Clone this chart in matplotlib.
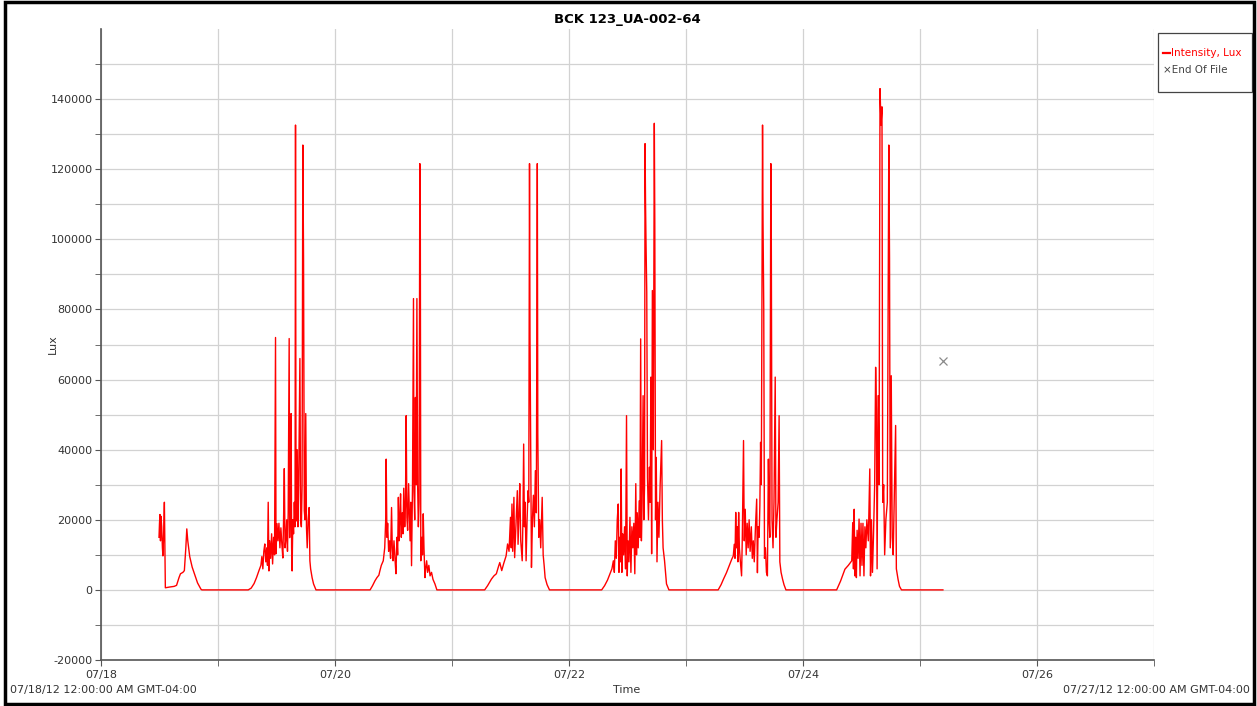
import datetime as dt

import matplotlib
matplotlib.use("Agg")
import matplotlib.pyplot as plt
import matplotlib.dates as mdates
from matplotlib.patches import Rectangle
from matplotlib.lines import Line2D

# logger readings, hours since 07/18/12 00:00 and intensity in lux
day1_h = [11.9, 12.0, 12.1, 12.2, 12.3, 12.45, 12.6, 12.7, 12.85, 13.0, 13.1, 13.2, 14.0, 15.0, 15.5,
          16.0, 16.3, 16.8, 17.1, 17.4, 17.6, 17.8, 18.2, 18.7, 19.3, 19.8, 20.5, 20.7]
day1_lux = [15000, 19000, 21500, 14000, 21000, 18000, 12000, 9700, 16000, 25000, 12000, 600, 800, 1000, 1300,
            3500, 4600, 5000, 5500, 12000, 17400, 14000, 9500, 6500, 4000, 2000, 200, 0]

day2_h = [30.2, 30.8, 31.4, 31.9, 32.4, 32.8, 33.0, 33.2, 33.4, 33.6, 33.8, 34.0, 34.15, 34.3, 34.45,
          34.6, 34.8, 35.0, 35.2, 35.4, 35.6, 35.8, 35.9, 36.1, 36.3, 36.5, 36.7, 36.9, 37.1, 37.3,
          37.45, 37.6, 37.75, 37.9, 38.1, 38.25, 38.4, 38.6, 38.7, 38.85, 39.0, 39.1, 39.2, 39.35, 39.5,
          39.65, 39.8, 39.9, 40.0, 40.1, 40.25, 40.4, 40.55, 40.7, 40.8, 40.95, 41.1, 41.25, 41.4, 41.55,
          41.7, 41.85, 42.0, 42.15, 42.3, 42.5, 42.7, 42.85, 43.0, 43.3, 43.6, 44.1]
day2_lux = [0, 500, 1800, 3500, 5500, 7000, 9500, 6000, 11000, 13100, 8000, 12000, 7000, 25000, 5400,
            14000, 9000, 16000, 7400, 15000, 10000, 72000, 10300, 18900, 14000, 19000, 12000, 17700, 13000, 9100,
            20000, 34600, 12000, 14000, 20000, 11000, 22000, 71700, 14900, 30000, 50300, 12000, 5400, 20000, 16000,
            25000, 18000, 132600, 30000, 19700, 40000, 18000, 30000, 53500, 66000, 20000, 18000, 30000, 126900, 94000,
            22600, 20000, 50300, 17800, 12000, 20000, 23500, 8300, 6000, 3500, 1700, 0]

day3_h = [55.2, 55.7, 56.2, 56.6, 57.0, 57.2, 57.5, 57.9, 58.2, 58.4, 58.5, 58.65, 58.8, 59.0, 59.2,
          59.4, 59.6, 59.75, 59.9, 60.1, 60.3, 60.5, 60.7, 60.85, 61.0, 61.15, 61.3, 61.45, 61.6, 61.8,
          61.95, 62.1, 62.3, 62.45, 62.6, 62.75, 62.9, 63.1, 63.25, 63.4, 63.55, 63.7, 63.9, 64.1, 64.2,
          64.35, 64.5, 64.65, 64.8, 64.95, 65.1, 65.25, 65.4, 65.5, 65.6, 65.8, 65.95, 66.1, 66.25, 66.45,
          66.6, 66.8, 67.0, 67.25, 67.5, 67.8, 68.1, 68.5, 68.9]
day3_lux = [0, 1200, 2600, 3500, 4200, 5400, 7000, 8300, 12000, 20000, 37300, 15000, 19000, 11000, 14000,
            9000, 23500, 12000, 8300, 14000, 9000, 4600, 15000, 10000, 26400, 14000, 20000, 27400, 15000, 22000,
            16000, 29000, 18000, 24000, 49700, 20700, 17000, 30300, 22000, 14000, 25000, 6900, 30000, 83100, 28000,
            20000, 54900, 30000, 83100, 30000, 18000, 25000, 121600, 105400, 8300, 15000, 10000, 21700, 12000, 3500,
            6000, 8300, 5000, 7000, 4000, 5000, 3000, 1700, 0]

day4_h = [78.7, 79.3, 80.1, 80.6, 81.1, 81.5, 81.8, 82.2, 82.6, 83.1, 83.4, 83.7, 84.0, 84.15, 84.3,
          84.45, 84.7, 84.85, 85.1, 85.4, 85.55, 85.75, 85.9, 86.1, 86.4, 86.55, 86.7, 86.85, 87.0, 87.2,
          87.4, 87.6, 87.75, 87.9, 88.0, 88.3, 88.5, 88.7, 88.9, 89.1, 89.3, 89.5, 89.6, 89.8, 90.0,
          90.2, 90.5, 90.7, 90.9, 91.1, 91.5, 92.0]
day4_lux = [0, 1200, 3100, 4000, 4600, 6500, 7800, 5500, 7500, 9700, 13100, 11000, 20700, 12000, 24500,
            11000, 26400, 9200, 18000, 28300, 13000, 22000, 30300, 14000, 8300, 20000, 41600, 18000, 25000, 8300,
            20000, 28300, 25000, 121600, 72100, 6400, 20000, 27000, 18000, 34000, 22000, 121600, 44500, 15000, 20000,
            12000, 26400, 10000, 7000, 3500, 1500, 0]

day5_h = [102.7, 103.3, 103.9, 104.4, 104.8, 105.1, 105.3, 105.5, 105.7, 105.9, 106.1, 106.25, 106.4, 106.55, 106.7,
          106.85, 107.0, 107.2, 107.4, 107.6, 107.8, 107.95, 108.1, 108.3, 108.5, 108.7, 108.9, 109.1, 109.3, 109.5,
          109.7, 109.85, 110.0, 110.2, 110.4, 110.55, 110.7, 110.85, 111.0, 111.2, 111.35, 111.5, 111.6, 111.7, 111.8,
          111.95, 112.1, 112.3, 112.5, 112.65, 112.8, 112.95, 113.1, 113.3, 113.5, 113.6, 113.75, 113.9, 114.05, 114.25,
          114.45, 114.7, 115.0, 115.15, 115.3, 115.6, 116.0, 116.5]
day5_lux = [0, 1200, 2800, 4600, 6000, 8300, 5000, 14000, 9000, 20000, 24500, 5000, 15000, 8000, 34500,
            5000, 16000, 10000, 18000, 6000, 49700, 4000, 14000, 8000, 20700, 5000, 18000, 12000, 19000, 4600,
            30300, 10000, 22000, 12000, 25400, 15000, 71600, 14000, 25000, 55400, 20000, 30000, 127300, 110200, 98800,
            85000, 32100, 20000, 35000, 25000, 60700, 10300, 85400, 40000, 133100, 104500, 20000, 37800, 8000, 25000,
            15000, 30000, 42600, 20000, 12000, 8300, 1700, 0]

day6_h = [126.6, 127.2, 127.7, 128.3, 128.9, 129.4, 129.7, 129.9, 130.05, 130.2, 130.35, 130.5, 130.65, 130.8, 130.95,
          131.1, 131.4, 131.55, 131.8, 131.95, 132.15, 132.35, 132.55, 132.75, 132.95, 133.15, 133.4, 133.6, 133.8, 134.0,
          134.25, 134.5, 134.65, 134.8, 135.0, 135.15, 135.3, 135.45, 135.7, 135.8, 135.95, 136.1, 136.3, 136.5, 136.7,
          136.9, 137.05, 137.2, 137.4, 137.5, 137.65, 137.85, 138.05, 138.3, 138.45, 138.65, 138.9, 139.1, 139.25, 139.5,
          139.8, 140.1, 140.5]
day6_lux = [0, 1500, 3100, 4900, 7000, 8800, 9700, 13000, 9000, 22100, 12000, 18000, 8000, 22100, 12000,
            9000, 4000, 15000, 42600, 14000, 23000, 10000, 19000, 12000, 20000, 11000, 18000, 9000, 14000, 8000,
            18000, 25900, 4900, 18000, 15000, 24000, 42100, 30000, 132600, 105000, 80200, 9000, 12000, 5000, 4000,
            37300, 20000, 15000, 121600, 99200, 20000, 12000, 25000, 60700, 15000, 20000, 25000, 49700, 8000, 5000,
            3100, 1500, 0]

day7_h = [150.9, 151.7, 152.6, 153.3, 154.0, 154.2, 154.35, 154.5, 154.65, 154.8, 154.95, 155.1, 155.3, 155.5, 155.7,
          155.9, 156.1, 156.3, 156.5, 156.7, 156.9, 157.1, 157.4, 157.7, 157.85, 158.05, 158.25, 158.45, 158.7, 158.9,
          159.05, 159.2, 159.4, 159.6, 159.8, 160.0, 160.2, 160.35, 160.55, 160.75, 161.0, 161.3, 161.6, 161.75, 161.9,
          162.1, 162.3, 162.5, 162.7, 163.0, 163.15, 163.5, 163.8, 164.2, 172.7]
day7_lux = [0, 2500, 5900, 7000, 8300, 19200, 6000, 23000, 4000, 15000, 3500, 17000, 9000, 20200, 4000,
            19000, 7000, 19000, 4000, 18000, 12000, 20000, 14000, 34500, 4000, 20000, 5000, 15000, 30000, 63500,
            51600, 6000, 55400, 30000, 143000, 132600, 137800, 25000, 30000, 10000, 20000, 25000, 126900, 94500, 12000,
            61100, 15000, 10000, 25000, 46900, 6000, 3000, 1000, 0, 0]

eof_h = 172.7
eof_lux = 65400

start = dt.datetime(2012, 7, 18)
end = dt.datetime(2012, 7, 27)
label_days = [dt.datetime(2012, 7, d) for d in (18, 20, 22, 24, 26)]

hours = day1_h + day2_h + day3_h + day4_h + day5_h + day6_h + day7_h
lux = day1_lux + day2_lux + day3_lux + day4_lux + day5_lux + day6_lux + day7_lux
times = [start + dt.timedelta(hours=h) for h in hours]

plt.rcParams["font.family"] = ["DejaVu Sans"]
plt.rcParams["axes.unicode_minus"] = False

W, H = 1257, 706
fig = plt.figure(figsize=(W / 100, H / 100), dpi=100)
ax = fig.add_axes([101 / W, 1 - 660 / H, 1053 / W, 631 / H])

ax.plot(times, lux, color="#ff0000", lw=1.0)
ax.plot([start + dt.timedelta(hours=eof_h)], [eof_lux], marker="x", color="#8a8a8a",
        ms=6, mew=0.9, ls="none")

ax.set_xlim(start, end)
ax.set_ylim(-20000, 160000)

ax.set_xticks(label_days)
ax.xaxis.set_minor_locator(mdates.DayLocator())
ax.xaxis.set_major_formatter(mdates.DateFormatter("%m/%d"))
ax.set_yticks(range(-20000, 140001, 20000))
ax.set_yticks(range(-10000, 160001, 20000), minor=True)

ax.grid(True, which="both", color="#d2d2d2", lw=0.9)
ax.set_axisbelow(True)
for s in ["top", "right"]:
    ax.spines[s].set_visible(False)
for s in ["left", "bottom"]:
    ax.spines[s].set_color("#555555")
    ax.spines[s].set_linewidth(1.2)

ax.tick_params(which="both", direction="out", length=4, color="#555555",
               labelsize=8, labelcolor="#333333", pad=2)
ax.tick_params(axis="x", pad=3)

ax.set_title("BCK 123_UA-002-64", fontsize=9.5, fontweight="bold", pad=4)
ax.set_ylabel("Lux", fontsize=8, color="#333333")
ax.yaxis.set_label_coords(-0.041, 0.5)

fig.text(627 / W, 1 - 690 / H, "Time", ha="center", va="center", fontsize=8, color="#333333")
fig.text(10 / W, 1 - 690 / H, "07/18/12 12:00:00 AM GMT-04:00", ha="left", va="center",
         fontsize=8, color="#333333")
fig.text(1250 / W, 1 - 690 / H, "07/27/12 12:00:00 AM GMT-04:00", ha="right", va="center",
         fontsize=8, color="#333333")

# legend box outside the plot, drawn by hand to match the logger software layout
fig.add_artist(Rectangle((1158 / W, 1 - 92 / H), 94 / W, 59 / H, transform=fig.transFigure,
                         fill=False, edgecolor="#444444", lw=0.9))
fig.add_artist(Line2D([1163 / W, 1170 / W], [1 - 53 / H, 1 - 53 / H], transform=fig.transFigure,
                      color="#ff0000", lw=1.6))
fig.text(1171 / W, 1 - 53 / H, "Intensity, Lux", ha="left", va="center", fontsize=7.5, color="#ff0000")
fig.text(1163 / W, 1 - 70 / H, "\u00d7End Of File", ha="left", va="center", fontsize=7.5, color="#444444")

fig.add_artist(Rectangle((0.004, 0.003), 0.994, 0.994, transform=fig.transFigure,
                         fill=False, edgecolor="black", lw=2.5))

fig.savefig("out.png", dpi=100)
